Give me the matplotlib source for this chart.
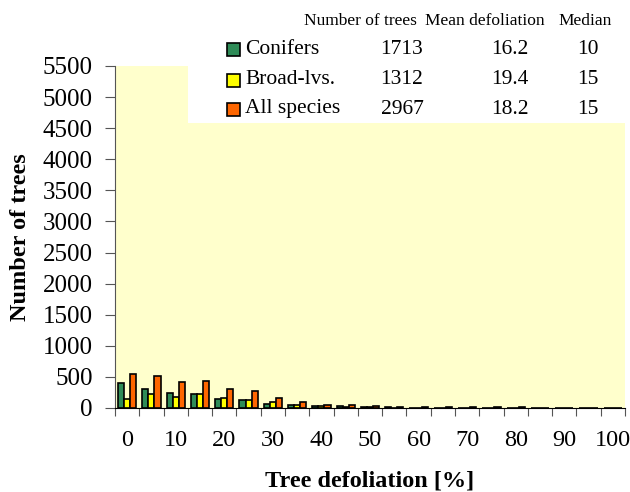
import numpy as np
import matplotlib.pyplot as plt
from matplotlib.patches import Rectangle

plt.rcParams['font.family'] = ['Liberation Serif', 'DejaVu Serif']

# defoliation classes 0..100 in 5 % steps
classes = np.arange(0, 105, 5)
conifers = [408, 301, 247, 220, 145, 134, 70, 50, 25, 25, 20, 10, 8, 8, 6, 8, 5, 4, 3, 2, 4]
broadlvs = [140, 221, 172, 230, 167, 134, 97, 45, 25, 20, 15, 8, 7, 6, 5, 8, 4, 3, 2, 1, 2]
allspec = [543, 516, 419, 441, 312, 269, 167, 95, 55, 50, 40, 18, 15, 14, 11, 16, 9, 7, 5, 3, 6]

series_names = ['Conifers', 'Broad-lvs.', 'All species']
colors = ['#2E8B57', '#FFFF00', '#FF6600']
n_trees = ['1713', '1312', '2967']
mean_def = ['16.2', '19.4', '18.2']
medians = ['10', '15', '15']

fig = plt.figure(figsize=(6.3, 4.92), dpi=100)
ax = fig.add_axes([115/630, 1 - 408/492, 510/630, 342/492])
ax.set_facecolor('#FFFFCC')

x = np.arange(len(classes))
w = 0.25
for i, (vals, c) in enumerate(zip([conifers, broadlvs, allspec], colors)):
    ax.bar(x + (i - 1) * w, vals, width=w, color=c, edgecolor='black', linewidth=1.2, zorder=2)

ax.set_xlim(-0.5, len(classes) - 0.5)
ax.set_ylim(0, 5500)
ax.set_yticks(np.arange(0, 5501, 500))
ax.set_xticks(np.arange(-0.5, len(classes), 1))
ax.set_xticklabels([])
ax.set_xticks(x[::2], minor=True)
ax.set_xticklabels([str(v) for v in classes[::2]], minor=True)
ax.tick_params(axis='x', which='major', direction='out', length=6, color='#555555')
ax.tick_params(axis='x', which='minor', length=0, pad=16, labelsize=17.5)
ax.tick_params(axis='y', direction='out', length=7, pad=9, labelsize=18, color='#555555')
for s in ['top', 'right']:
    ax.spines[s].set_visible(False)
ax.spines['left'].set_color('#555555')
ax.spines['bottom'].set_color('black')

ax.set_ylabel('Number of trees', fontsize=17.5, fontweight='bold')
ax.set_xlabel('Tree defoliation [%]', fontsize=17.5, fontweight='bold')
ax.yaxis.set_label_coords(-0.164, 0.5)
ax.xaxis.set_label_coords(0.5, -0.182)

# white legend table box
fig.patches.append(Rectangle((188/630, 1 - 123/492), 1, 1, transform=fig.transFigure,
                             facecolor='white', edgecolor='none', zorder=1))

hy = 1 - 21/492
fig.text(360/630, hy, 'Number of trees', ha='center', va='center', fontsize=12.5, zorder=3)
fig.text(485/630, hy, 'Mean defoliation', ha='center', va='center', fontsize=12.5, zorder=3)
fig.text(585/630, hy, 'Median', ha='center', va='center', fontsize=12.5, zorder=3)
rows_y = [50, 80, 109]
for name, c, nt, md, me, ry in zip(series_names, colors, n_trees, mean_def, medians, rows_y):
    yy = 1 - ry/492
    fig.patches.append(Rectangle((227/630, yy - 6.5/492), 13/630, 13/492, transform=fig.transFigure,
                                 facecolor=c, edgecolor='black', linewidth=1.2, zorder=3))
    fig.text(245/630, yy, name, ha='left', va='center', fontsize=15.5, zorder=3)
    fig.text(402/630, yy, nt, ha='center', va='center', fontsize=15.5, zorder=3)
    fig.text(510/630, yy, md, ha='center', va='center', fontsize=15.5, zorder=3)
    fig.text(588/630, yy, me, ha='center', va='center', fontsize=15.5, zorder=3)

fig.savefig('out.png', dpi=100)
